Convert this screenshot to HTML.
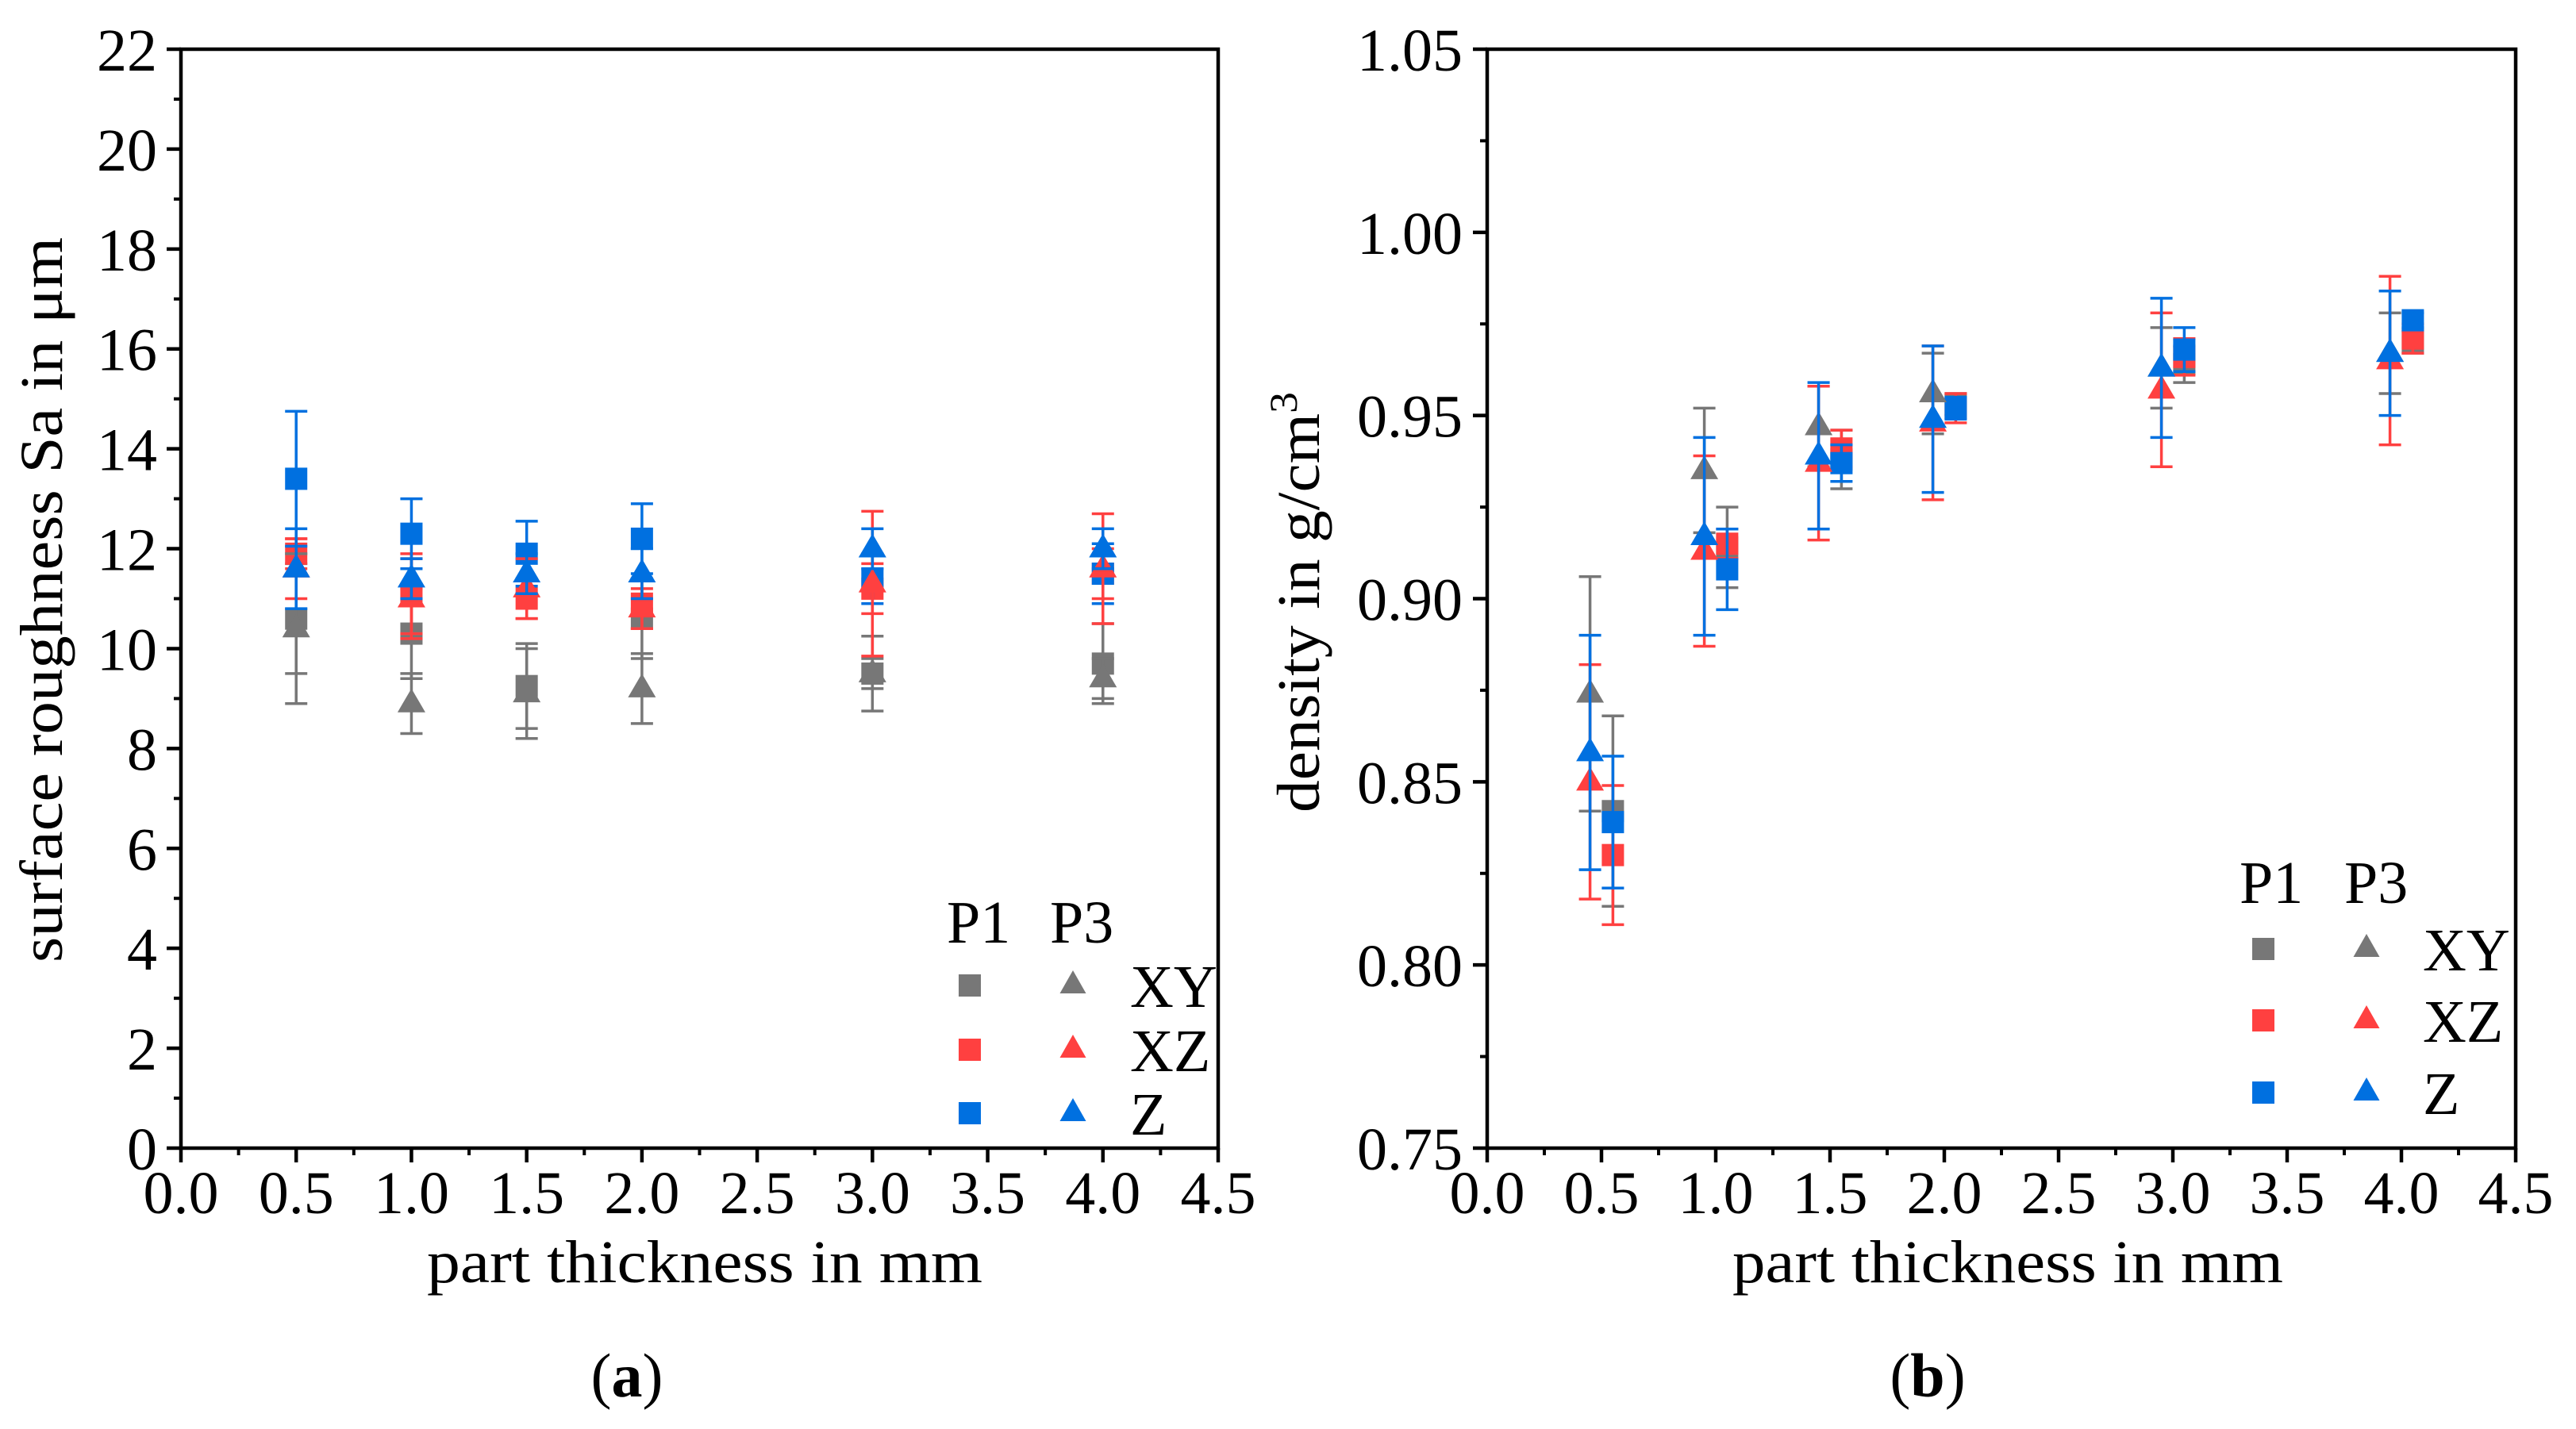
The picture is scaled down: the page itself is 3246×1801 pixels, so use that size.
<!DOCTYPE html>
<html><head><meta charset="utf-8"><style>
html,body{margin:0;padding:0;background:#fff;}
svg{display:block;}
svg text{font-family:"Liberation Serif","DejaVu Serif","Times New Roman",serif;}
</style></head><body>
<svg id="chart" width="3246" height="1801" viewBox="0 0 3246 1801" xmlns="http://www.w3.org/2000/svg" font-family="Liberation Serif, DejaVu Serif, serif">
<rect width="3246" height="1801" fill="#fff"/>
</svg>
<script>
// ---- Panel (a): surface roughness ----
const aXTicks = ["0.0","0.5","1.0","1.5","2.0","2.5","3.0","3.5","4.0","4.5"];
const aYTicks = ["0","2","4","6","8","10","12","14","16","18","20","22"];
const aX = [0.5, 1.0, 1.5, 2.0, 3.0, 4.0];
const aXYP1 = [10.6, 10.3, 9.25, 10.6, 9.5, 9.7];
const aXYP1err = [1.1, 0.9, 0.85, 0.8, 0.75, 0.8];
const aXZP1 = [11.9, 11.1, 11.0, 10.9, 11.2, 11.5];
const aXZP1err = [0.3, 0.8, 0.4, 0.5, 0.5, 0.5];
const aZP1 = [13.4, 12.3, 11.9, 12.2, 11.4, 11.5];
const aZP1err = [1.35, 0.7, 0.65, 0.7, 0.5, 0.6];
const aXYP3 = [10.4, 8.9, 9.1, 9.2, 9.5, 9.4];
const aXYP3err = [1.5, 0.6, 0.9, 0.7, 0.3, 0.4];
const aXZP3 = [11.6, 11.0, 11.2, 10.8, 11.3, 11.6];
const aXZP3err = [0.6, 0.8, 0.6, 0.4, 1.45, 1.1];
const aZP3 = [11.6, 11.4, 11.5, 11.5, 12.0, 12.0];
const aZP3err = [0.8, 0.4, 0.4, 0.5, 0.4, 0.4];

// ---- Panel (b): density ----
const bXTicks = ["0.0","0.5","1.0","1.5","2.0","2.5","3.0","3.5","4.0","4.5"];
const bYTicks = ["0.75","0.80","0.85","0.90","0.95","1.00","1.05"];
const bXP3 = [0.45, 0.95, 1.45, 1.95, 2.95, 3.95];
const bXP1 = [0.55, 1.05, 1.55, 2.05, 3.05, 4.05];
const bXYP1 = [0.842, 0.914, 0.938, 0.953, 0.964, 0.970];
const bXYP1err = [0.026, 0.011, 0.008, 0.003, 0.005, 0.003];
const bXZP1 = [0.830, 0.915, 0.941, 0.952, 0.966, 0.971];
const bXZP1err = [0.019, 0.004, 0.005, 0.004, 0.005, 0.004];
const bZP1 = [0.839, 0.908, 0.937, 0.952, 0.968, 0.976];
const bZP1err = [0.018, 0.011, 0.005, 0.003, 0.006, 0.002];
const bXYP3 = [0.874, 0.935, 0.947, 0.956, 0.963, 0.967];
const bXYP3err = [0.032, 0.017, 0.011, 0.011, 0.011, 0.011];
const bXZP3 = [0.850, 0.913, 0.937, 0.948, 0.957, 0.965];
const bXZP3err = [0.032, 0.026, 0.021, 0.021, 0.021, 0.023];
const bZP3 = [0.858, 0.917, 0.939, 0.949, 0.963, 0.967];
const bZP3err = [0.032, 0.027, 0.020, 0.020, 0.019, 0.017];

const GRAY="#777777", RED="#ff4040", BLUE="#0070e0";
const FONT='"Liberation Serif", "DejaVu Serif", serif';
const svg=document.getElementById('chart');
const NS="http://www.w3.org/2000/svg";
function mk(tag,attrs,parent){const e=document.createElementNS(NS,tag);for(const k in attrs)e.setAttribute(k,attrs[k]);if(tag==='text')e.setAttribute('font-family',FONT);(parent||svg).appendChild(e);return e;}

function panel(o){
  const g=mk('g',{});
  
  
  const sx=v=>o.x0+(v-o.xmin)/(o.xmax-o.xmin)*(o.x1-o.x0);
  const sy=v=>o.y0-(v-o.ymin)/(o.ymax-o.ymin)*(o.y0-o.y1);
  const sg=mk('g',{},g);
  
  
  o.series.forEach(s=>{
    const gg=mk('g',{},sg);
    
    
    s.xs.forEach((xv,i)=>{
      const cx=sx(xv), cy=sy(s.ys[i]);
      const top=sy(s.ys[i]+s.err[i]), bot=sy(s.ys[i]-s.err[i]);
      const eb=mk('path',{d:`M${cx},${top}V${bot}M${cx-14},${top}H${cx+14}M${cx-14},${bot}H${cx+14}`,stroke:s.color,'stroke-width':3.5,fill:'none'},gg);
      
      
      let m;
      if(s.shape==='sq'){m=mk('rect',{x:cx-14,y:cy-14,width:28,height:28,fill:s.color},gg);}
      else{m=mk('path',{d:`M${cx},${cy-19}L${cx+17.5},${cy+11}L${cx-17.5},${cy+11}Z`,fill:s.color},gg);}
      
      
    });
  });
  const fr=mk('rect',{x:o.x0,y:o.y1,width:o.x1-o.x0,height:o.y0-o.y1,fill:'none',stroke:'#000','stroke-width':4.5},g);
  
  
  const xt=mk('g',{},g);
  
  
  o.xTicks.forEach((t,i)=>{
    const v=parseFloat(t), x=sx(v);
    mk('line',{x1:x,y1:o.y0,x2:x,y2:o.y0+18,stroke:'#000','stroke-width':4.5},xt);
    if(i<o.xTicks.length-1){const xm=sx(v+0.25);mk('line',{x1:xm,y1:o.y0,x2:xm,y2:o.y0+9,stroke:'#000','stroke-width':4},xt);}
    const tx=mk('text',{x:x,y:1529,'font-size':76,'text-anchor':'middle'},xt);
    tx.textContent=t;
    
    
  });
  const yt=mk('g',{},g);
  
  
  o.yTicks.forEach((t,i)=>{
    const v=parseFloat(t), y=sy(v);
    mk('line',{x1:o.x0,y1:y,x2:o.x0-18,y2:y,stroke:'#000','stroke-width':4.5},yt);
    if(i<o.yTicks.length-1){const ym=sy(v+o.ystep/2);mk('line',{x1:o.x0,y1:ym,x2:o.x0-9,y2:ym,stroke:'#000','stroke-width':4},yt);}
    const tx=mk('text',{x:o.ylx,y:y+27,'font-size':76,'text-anchor':'end'},yt);
    tx.textContent=t;
    
    
  });
  const xl=mk('text',{x:o.xtx,y:1616,'font-size':76,'text-anchor':'middle',textLength:o.xtw,lengthAdjust:'spacingAndGlyphs'},g);
  xl.textContent='part thickness in mm';
  
  
  const yl=mk('text',{x:0,y:0,'font-size':76,'text-anchor':'middle',transform:`translate(${o.ytx},${o.yty}) rotate(-90)`,textLength:o.ytw,lengthAdjust:'spacingAndGlyphs'},g);
  yl.innerHTML=o.ytitle;
  
  
  const cap=mk('text',{x:o.capx,y:1760,'font-size':78,'text-anchor':'middle'},g);
  cap.innerHTML=o.cap;
  
  
  const L=o.leg;
  const lg=mk('g',{},g);
  
  
  const h1=mk('text',{x:L.p1,y:L.hy,'font-size':76},lg);h1.textContent='P1';
  
  
  const h3=mk('text',{x:L.p3,y:L.hy,'font-size':76},lg);h3.textContent='P3';
  
  
  [['XY',GRAY],['XZ',RED],['Z',BLUE]].forEach((r,i)=>{
    const cy=L.rows[i];
    const e=mk('g',{},lg);
    
    
    mk('rect',{x:L.sq-14,y:cy-14,width:28,height:28,fill:r[1]},e);
    mk('path',{d:`M${L.tr},${cy-19}L${L.tr+16.5},${cy+10}L${L.tr-16.5},${cy+10}Z`,fill:r[1]},e);
    const t=mk('text',{x:L.lx,y:cy+27,'font-size':76},e);t.textContent=r[0];
  });
}

function S(name,xs,ys,err,color,shape){return {name,xs,ys,err,color,shape};}

panel({name:'panel-a-roughness',x0:228,x1:1535,y0:1447,y1:62,xmin:0,xmax:4.5,ymin:0,ymax:22,ystep:2,
  xTicks:aXTicks,yTicks:aYTicks,ylx:198,xtx:888,xtw:700,ytx:78,yty:756,ytw:914,
  ytitle:'surface roughness Sa in μm',capx:790,cap:'(<tspan font-weight="bold">a</tspan>)',
  leg:{p1:1193,p3:1323,hy:1188,rows:[1242,1323,1403],sq:1222,tr:1352,lx:1424},
  series:[S('xy-p1',aX,aXYP1,aXYP1err,GRAY,'sq'),S('xz-p1',aX,aXZP1,aXZP1err,RED,'sq'),S('z-p1',aX,aZP1,aZP1err,BLUE,'sq'),
          S('xy-p3',aX,aXYP3,aXYP3err,GRAY,'tr'),S('xz-p3',aX,aXZP3,aXZP3err,RED,'tr'),S('z-p3',aX,aZP3,aZP3err,BLUE,'tr')]});

panel({name:'panel-b-density',x0:1874,x1:3170,y0:1447,y1:62,xmin:0,xmax:4.5,ymin:0.75,ymax:1.05,ystep:0.05,
  xTicks:bXTicks,yTicks:bYTicks,ylx:1843,xtx:2530,xtw:694,ytx:1662,yty:759,ytw:530,
  ytitle:'density in g/cm<tspan dy="-28" font-size="50">3</tspan>',capx:2429,cap:'(<tspan font-weight="bold">b</tspan>)',
  leg:{p1:2822,p3:2954,hy:1138,rows:[1196,1286,1377],sq:2852,tr:2982,lx:3053},
  series:[S('xy-p1',bXP1,bXYP1,bXYP1err,GRAY,'sq'),S('xz-p1',bXP1,bXZP1,bXZP1err,RED,'sq'),S('z-p1',bXP1,bZP1,bZP1err,BLUE,'sq'),
          S('xy-p3',bXP3,bXYP3,bXYP3err,GRAY,'tr'),S('xz-p3',bXP3,bXZP3,bXZP3err,RED,'tr'),S('z-p3',bXP3,bZP3,bZP3err,BLUE,'tr')]});
</script>
</body></html>
